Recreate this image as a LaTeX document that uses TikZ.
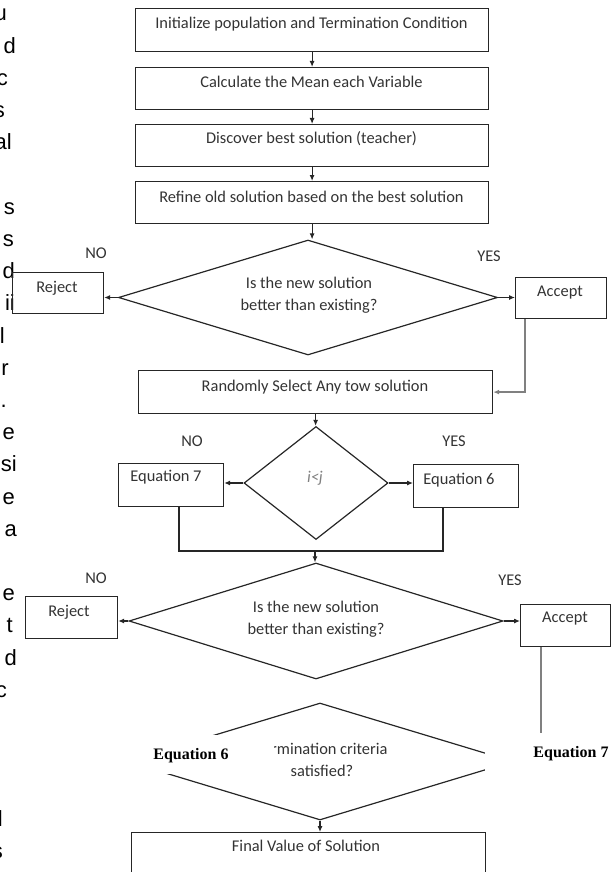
\documentclass[tikz,border=0pt]{standalone}
\usepackage{fontspec}
\setmainfont{Carlito}
\newfontfamily\arialf{Liberation Sans}
\newfontfamily\timesf{Liberation Serif}
\usetikzlibrary{arrows.meta,shapes.geometric,calc}
\begin{document}
\begin{tikzpicture}[x=1pt,y=-1pt,
  box/.style={draw=black!85, line width=1.2pt, anchor=north west, inner sep=0pt},
  txt/.style={font=\fontsize{16.4}{22}\selectfont, text=black!80, inner sep=0pt, align=center},
  dia/.style={diamond, draw=black!85, line width=1.2pt, inner sep=0pt},
  arr/.style={-{Latex[length=6pt,width=5pt]}, line width=1.1pt, draw=black!85},
  plain/.style={line width=1.1pt, draw=black!85},
  grayline/.style={line width=2.2pt, draw=black!50},
  frag/.style={font=\arialf\fontsize{22}{22}\selectfont, anchor=base east, inner sep=0pt},
  eqlab/.style={font=\timesf\bfseries\fontsize{16}{16}\selectfont, inner sep=0pt},
  cover/.style={fill=white, draw=none, inner sep=0pt, anchor=north west}]
\useasboundingbox (0,0) rectangle (611,872);

% left text fragments (clipped paragraph)
\foreach \k/\s/\x in {0/u/7,1/d/16,2/c/8,3/s/5,4/al/12,6/s/15,7/s/14,8/d/15,9/ii/15,10/l/5,11/r/9,12/./7,13/e/15,14/si/17,15/e/15,16/a/17,18/e/15,19/t/13,20/d/17,21/c/7,25/l/3,26/s/3}
  \node[frag] (f\k) at (\x,21+32.2*\k) {\s};

% process boxes
\node[box, minimum width=353pt, minimum height=43pt] (b1) at (135,8) {};
\node[box, minimum width=353pt, minimum height=42pt] (b2) at (135,67) {};
\node[box, minimum width=353pt, minimum height=42pt] (b3) at (135,124) {};
\node[box, minimum width=353pt, minimum height=42pt] (b4) at (135,181) {};
\node[txt] (t1) at (311.5,24) {Initialize population and Termination Condition};
\node[txt] (t2) at (311.5,82) {Calculate the Mean each Variable};
\node[txt] (t3) at (311.5,139) {Discover best solution (teacher)};
\node[txt] (t4) at (311.5,197) {Refine old solution based on the best solution};

% first decision
\node[dia, minimum width=379pt, minimum height=115pt] (d1) at (308,297.5) {};
\node[txt] (d1t) at (309,295) {Is the new solution\\better than existing?};
\node[box, minimum width=91pt, minimum height=41pt] (r1) at (12,272) {};
\node[txt] (r1t) at (57,288) {Reject};
\node[box, minimum width=91pt, minimum height=41pt] (a1) at (515,277) {};
\node[txt] (a1t) at (560,293) {Accept};
\node[txt] (no1) at (96,253) {NO};
\node[txt] (yes1) at (489,256) {YES};

% random selection
\node[box, minimum width=354pt, minimum height=43pt] (rs) at (138,370) {};
\node[txt] (rst) at (315,387) {Randomly Select Any tow solution};

% i<j decision
\node[dia, minimum width=144pt, minimum height=113pt] (d2) at (316,483) {};
\node[txt, text=black!50] (d2t) at (315,478) {\itshape i<j};
\node[box, minimum width=105pt, minimum height=43pt] (e7) at (118,463) {};
\node[txt] (e7t) at (166,477) {Equation 7};
\node[box, minimum width=105pt, minimum height=43pt] (e6) at (413,464) {};
\node[txt] (e6t) at (459,480) {Equation 6};
\node[txt] (no2) at (192,441) {NO};
\node[txt] (yes2) at (454,441) {YES};

% second decision
\node[dia, minimum width=374pt, minimum height=116pt] (d3) at (316,621) {};
\node[txt] (d3t) at (316,619) {Is the new solution\\better than existing?};
\node[box, minimum width=92pt, minimum height=42pt] (r2) at (25,596) {};
\node[txt] (r2t) at (69,612) {Reject};
\node[box, minimum width=90pt, minimum height=42pt] (a2) at (520,604) {};
\node[txt] (a2t) at (565,619) {Accept};
\node[txt] (no3) at (96,578) {NO};
\node[txt] (yes3) at (510,580) {YES};

% termination decision
\node[dia, minimum width=386pt, minimum height=117pt] (d4) at (320,761.5) {};
\node[txt] (d4t) at (322,760) {Termination criteria\\satisfied?};

% final box
\node[box, minimum width=354pt, minimum height=60pt] (fin) at (131,832) {};
\node[txt] (fint) at (306,846) {Final Value of Solution};

% connectors
\draw[arr] (b1.south) -- (b2.north);
\draw[arr] (b2.south) -- (b3.north);
\draw[arr] (b3.south) -- (b4.north);
\draw[arr] (b4.south) -- (b4.south |- d1.north);
\draw[arr] (d1.west) -- (d1.west -| r1.east);
\draw[arr] (d1.east) -- (d1.east -| a1.west);
\draw[arr, grayline] ([xshift=10pt]a1.south west) |- (rs.east);
\draw[arr] (rs.south) -- (rs.south |- d2.north);
\draw[arr] (d2.west) -- (d2.west -| e7.east);
\draw[arr] (d2.east) -- (d2.east -| e6.west);
\coordinate (mj) at (315,551);
\draw[plain] ([xshift=61pt]e7.south west) |- (mj) -| ([xshift=30pt]e6.south west);
\draw[arr] (mj) -- (mj |- d3.north);
\draw[arr] (d3.west) -- (d3.west -| r2.east);
\draw[arr] (d3.east) -- (d3.east -| a2.west);
\coordinate (gend) at (541,745);
\draw[grayline] ([xshift=21pt]a2.south west) -- (gend);
\draw[arr] (d4.south) -- (d4.south |- fin.north);

% covering labels
\node[cover, minimum width=174pt, minimum height=39pt] (cov6) at (100,735) {};
\node[cover, minimum width=126pt, minimum height=44pt] (cov7) at (485,733) {};
\node[eqlab] (eq6) at (191,756) {Equation 6};
\node[eqlab] (eq7) at (571,754) {Equation 7};
\end{tikzpicture}
\end{document}
